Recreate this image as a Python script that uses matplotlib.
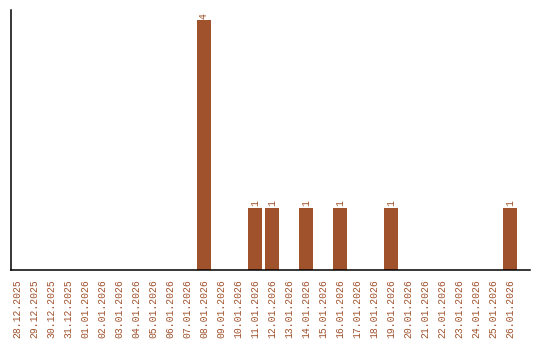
import matplotlib
matplotlib.use("Agg")
import matplotlib.pyplot as plt

# ── Data ─────────────────────────────────────
dates = [
    "28.12.2025", "29.12.2025", "30.12.2025", "31.12.2025",
    "01.01.2026", "02.01.2026", "03.01.2026", "04.01.2026",
    "05.01.2026", "06.01.2026", "07.01.2026", "08.01.2026",
    "09.01.2026", "10.01.2026", "11.01.2026", "12.01.2026",
    "13.01.2026", "14.01.2026", "15.01.2026", "16.01.2026",
    "17.01.2026", "18.01.2026", "19.01.2026", "20.01.2026",
    "21.01.2026", "22.01.2026", "23.01.2026", "24.01.2026",
    "25.01.2026", "26.01.2026",
]
counts = [0, 0, 0, 0, 0, 0, 0, 0, 0, 0, 0, 4, 0, 0, 1, 1,
          0, 1, 0, 1, 0, 0, 1, 0, 0, 0, 0, 0, 0, 1]

color = "#A0522D"
font = ["Liberation Mono", "DejaVu Sans Mono"]

# ── Plot ─────────────────────────────────────
fig = plt.figure(figsize=(5.4, 3.4), dpi=100)
ax = fig.add_axes([11 / 540, 70 / 340, 519 / 540, 260 / 340])

x = list(range(len(dates)))
ax.bar(x, counts, width=0.82, color=color)

# value labels on top of bars
for xi, c in zip(x, counts):
    if c > 0:
        ax.annotate(str(c), (xi, c), xytext=(0, 1), textcoords="offset points",
                    rotation=90, ha="center", va="bottom",
                    color=color, fontsize=7, family=font)

ax.set_xlim(-0.35, 30.18)
ax.set_ylim(0, 4.16)
ax.set_xticks(x)
ax.set_xticklabels(dates, rotation=90, color=color, fontsize=7, family=font)
ax.tick_params(axis="x", length=0, pad=7)
ax.set_yticks([])

for side in ["top", "right"]:
    ax.spines[side].set_visible(False)
for side in ["left", "bottom"]:
    ax.spines[side].set_linewidth(1.1)

fig.savefig("out.png", dpi=100)
